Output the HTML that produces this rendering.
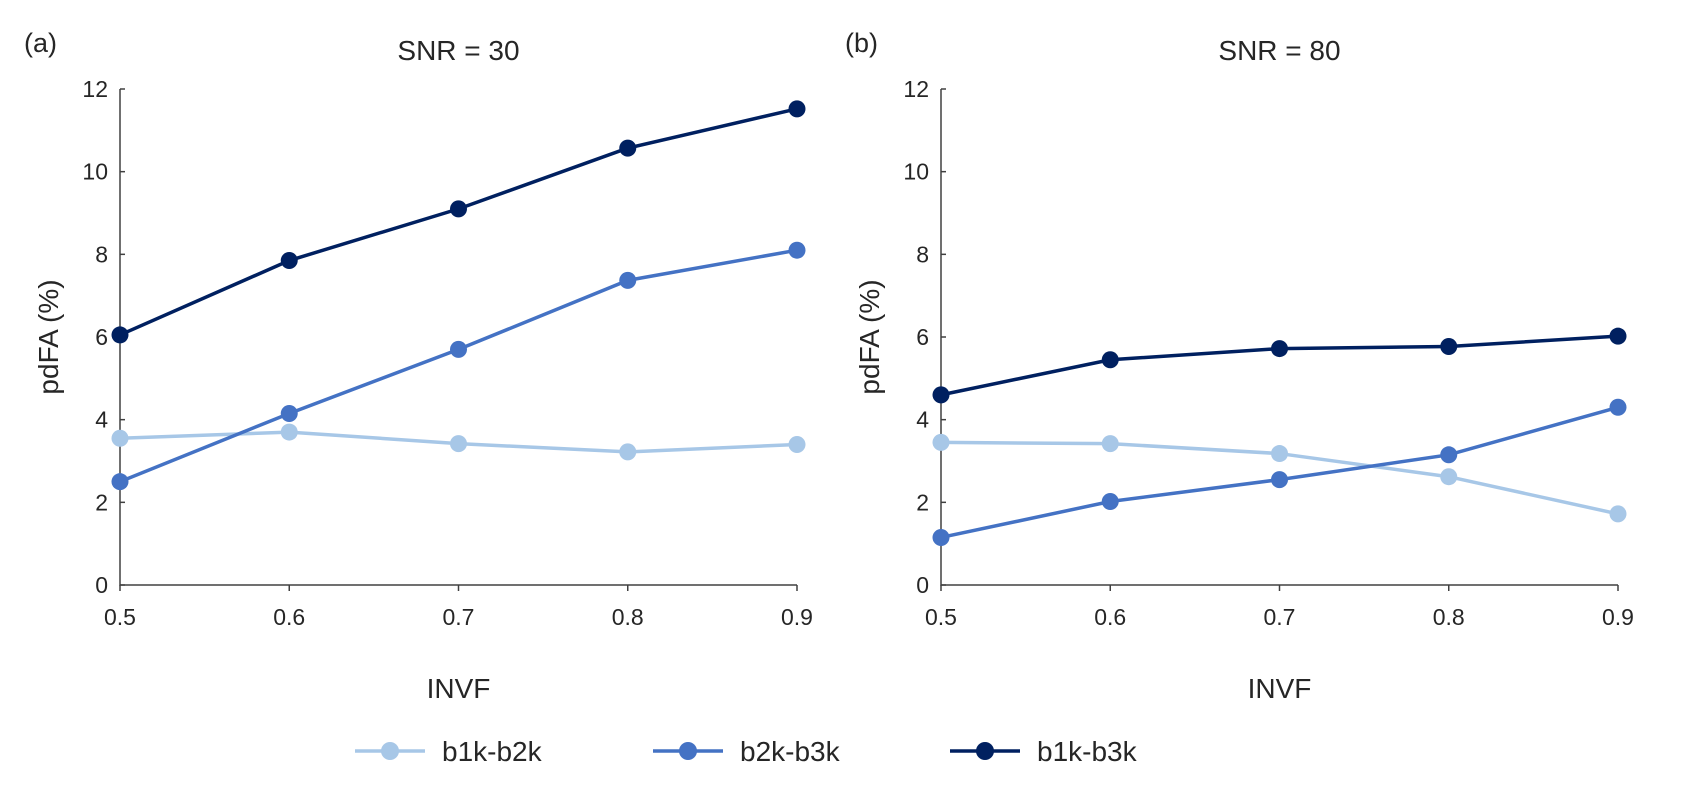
<!DOCTYPE html>
<html><head><meta charset="utf-8"><style>
body{margin:0;background:#fff;}
svg text{font-family:"Liberation Sans",sans-serif;fill:#262626;}
</style></head><body>
<svg id="chart" width="1701" height="802" viewBox="0 0 1701 802"></svg>
<script>
const categories=[0.5,0.6,0.7,0.8,0.9];
const yTicks=[0,2,4,6,8,10,12];
const seriesNames=["b1k-b2k","b2k-b3k","b1k-b3k"];
const seriesColors=["#A7C7E7","#4472C4","#002060"];
const a_b1kb2k=[3.55,3.7,3.42,3.22,3.4];
const a_b2kb3k=[2.5,4.15,5.7,7.37,8.1];
const a_b1kb3k=[6.05,7.85,9.1,10.57,11.52];
const b_b1kb2k=[3.45,3.42,3.18,2.62,1.72];
const b_b2kb3k=[1.15,2.02,2.55,3.15,4.3];
const b_b1kb3k=[4.6,5.45,5.72,5.77,6.02];
const panels=[
 {id:"a",title:"SNR = 30",x0:120,series:[a_b1kb2k,a_b2kb3k,a_b1kb3k]},
 {id:"b",title:"SNR = 80",x0:941,series:[b_b1kb2k,b_b2kb3k,b_b1kb3k]}
];
const NS="http://www.w3.org/2000/svg";
const svg=document.getElementById('chart');
function mk(tag,attrs,parent,text){const e=document.createElementNS(NS,tag);for(const k in attrs)e.setAttribute(k,attrs[k]);if(text!==undefined)e.textContent=text;(parent||svg).appendChild(e);return e;}
const W=677,Y0=585,Y1=89;
panels.forEach(p=>{
 const g=mk('g',{});
 
 
 const xs=v=>p.x0+(v-0.5)/0.4*W;
 const ys=v=>Y0-(v/12)*(Y0-Y1);
 const lab=mk('text',{x:p.x0-96,y:52,'font-size':27},g,'('+p.id+')');
 
 
 const t=mk('text',{x:p.x0+W/2,y:60,'font-size':28,'text-anchor':'middle'},g,p.title);
 
 
 const ax=mk('path',{d:`M${p.x0},${Y1}V${Y0}H${p.x0+W}`,stroke:'#404040','stroke-width':1.5,fill:'none'},g);
 
 
 yTicks.forEach(v=>{
  mk('line',{x1:p.x0,x2:p.x0+5,y1:ys(v),y2:ys(v),stroke:'#404040','stroke-width':1.5},g);
  const tl=mk('text',{x:p.x0-12,y:ys(v)+8,'font-size':23,'text-anchor':'end'},g,String(v));
  
  
 });
 categories.forEach(c=>{
  mk('line',{x1:xs(c),x2:xs(c),y1:Y0,y2:Y0+6,stroke:'#404040','stroke-width':1.5},g);
  const tl=mk('text',{x:xs(c),y:Y0+40,'font-size':23,'text-anchor':'middle'},g,c.toFixed(1));
  
  
 });
 const xt=mk('text',{x:p.x0+W/2,y:698,'font-size':28,'text-anchor':'middle'},g,'INVF');
 
 
 const yt=mk('text',{x:0,y:0,'font-size':28,'text-anchor':'middle',transform:`translate(${p.x0-62},${(Y0+Y1)/2}) rotate(-90)`},g,'pdFA (%)');
 
 
 p.series.forEach((s,i)=>{
  const pts=s.map((v,j)=>xs(categories[j])+','+ys(v)).join(' ');
  const pl=mk('polyline',{points:pts,fill:'none',stroke:seriesColors[i],'stroke-width':3.5},g);
  
  
  s.forEach((v,j)=>{
   const c=mk('circle',{cx:xs(categories[j]),cy:ys(v),r:8.5,fill:seriesColors[i]},g);
   
   
  });
 });
});
const legX=[355,653,950];
seriesNames.forEach((n,i)=>{
 const g=mk('g',{});
 
 
 mk('line',{x1:legX[i],x2:legX[i]+70,y1:751,y2:751,stroke:seriesColors[i],'stroke-width':3.5},g);
 mk('circle',{cx:legX[i]+35,cy:751,r:9,fill:seriesColors[i]},g);
 mk('text',{x:legX[i]+87,y:761,'font-size':28},g,n);
});
</script>
</body></html>
